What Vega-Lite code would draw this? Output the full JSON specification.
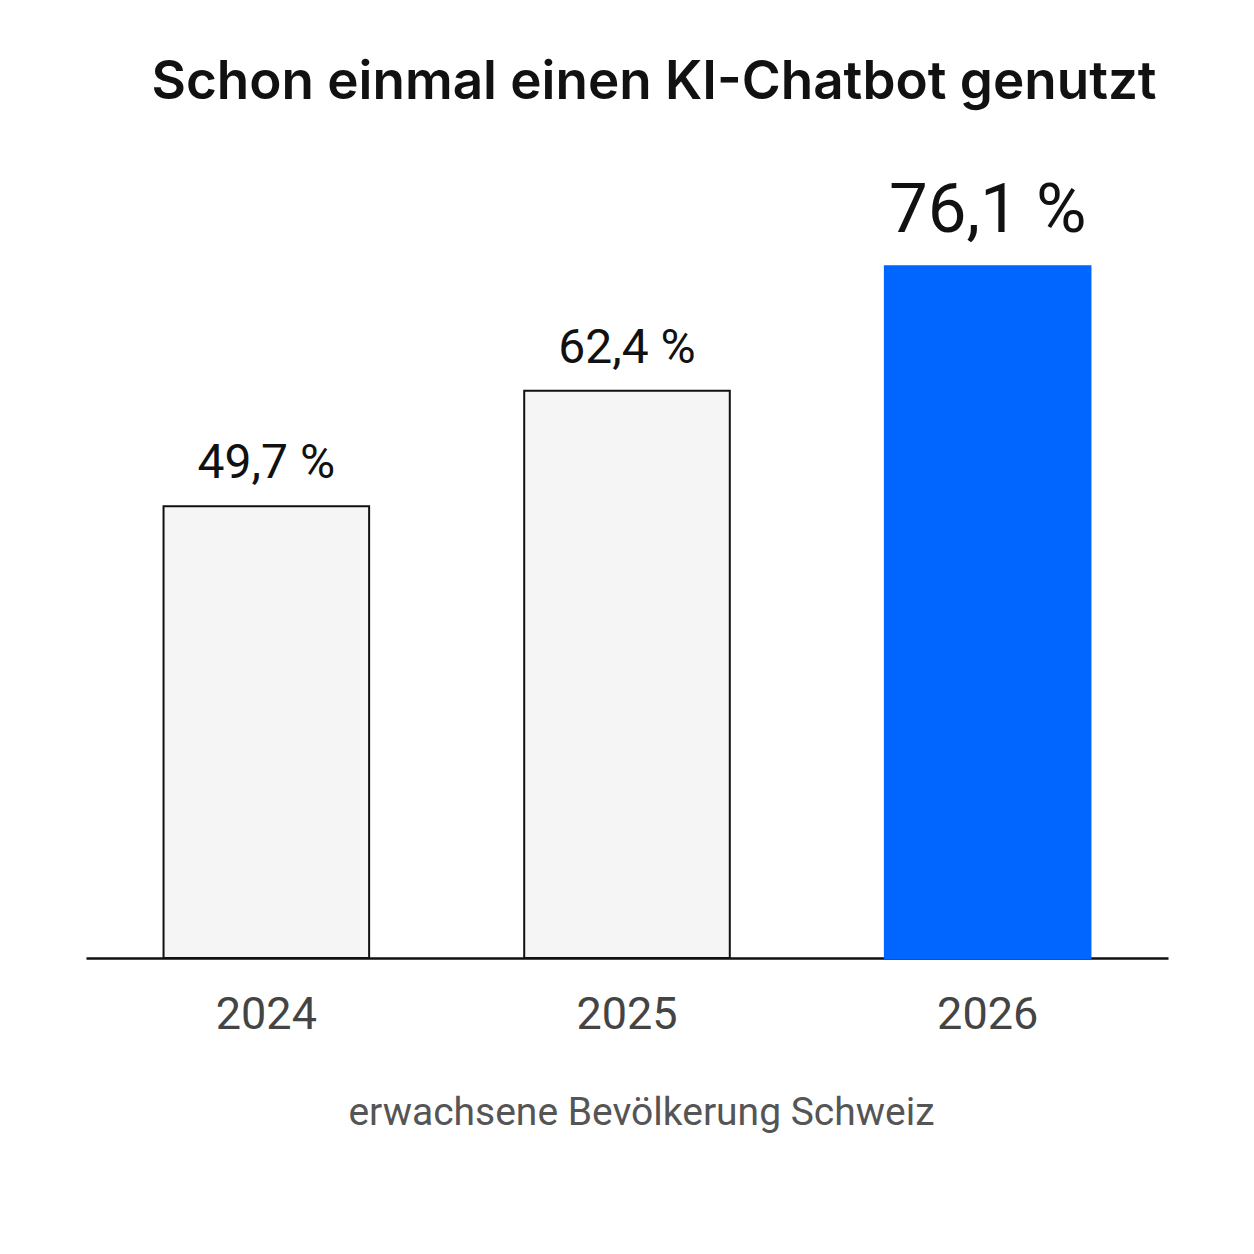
{
  "$schema": "https://vega.github.io/schema/vega-lite/v6.json",
  "autosize": {"type": "none"},
  "padding": {"left": 86, "top": 140, "right": 86, "bottom": 296},
  "width": 1082,
  "height": 818,
  "background": "#ffffff",
  "title": {
    "text": "Schon einmal einen KI-Chatbot genutzt",
    "font": "Inter",
    "fontSize": 53,
    "fontWeight": 600,
    "color": "#111111",
    "anchor": "middle",
    "dx": 27,
    "offset": 30
  },
  "data": {
    "values": [
      {"year": "2024", "share": 49.7, "label": "49,7 %"},
      {"year": "2025", "share": 62.4, "label": "62,4 %"},
      {"year": "2026", "share": 76.1, "label": "76,1 %"}
    ]
  },
  "encoding": {
    "x": {
      "field": "year",
      "type": "nominal",
      "sort": null,
      "scale": {"paddingInner": 0.43, "paddingOuter": 0.215},
      "axis": {
        "title": "erwachsene Bevölkerung Schweiz",
        "titleFont": "Roboto",
        "titleFontSize": 39,
        "titleFontWeight": "normal",
        "titleColor": "#555555",
        "titlePadding": 56,
        "titleX": 555,
        "labelFont": "Roboto",
        "labelFontSize": 45,
        "labelColor": "#444444",
        "labelAngle": 0,
        "labelPadding": 34,
        "ticks": false,
        "domainColor": "#111111",
        "domainWidth": 2.5,
        "grid": false
      }
    },
    "y": {
      "field": "share",
      "type": "quantitative",
      "scale": {"domain": [0, 90], "nice": false},
      "axis": null
    }
  },
  "layer": [
    {
      "mark": {"type": "bar", "strokeWidth": 2},
      "encoding": {
        "fill": {
          "field": "year",
          "type": "nominal",
          "scale": {"domain": ["2024", "2025", "2026"], "range": ["#f5f5f5", "#f5f5f5", "#0066ff"]},
          "legend": null
        },
        "stroke": {
          "field": "year",
          "type": "nominal",
          "scale": {"domain": ["2024", "2025", "2026"], "range": ["#111111", "#111111", "#0066ff"]},
          "legend": null
        }
      }
    },
    {
      "transform": [{"filter": "datum.year != '2026'"}],
      "mark": {"type": "text", "font": "Roboto", "fontSize": 48, "baseline": "alphabetic", "dy": -28, "color": "#111111"},
      "encoding": {
        "text": {"field": "label", "type": "nominal"}
      }
    },
    {
      "transform": [{"filter": "datum.year == '2026'"}],
      "mark": {"type": "text", "font": "Roboto", "fontSize": 69, "baseline": "alphabetic", "dy": -34, "color": "#111111"},
      "encoding": {
        "text": {"field": "label", "type": "nominal"}
      }
    }
  ],
  "config": {
    "view": {"stroke": null}
  }
}
